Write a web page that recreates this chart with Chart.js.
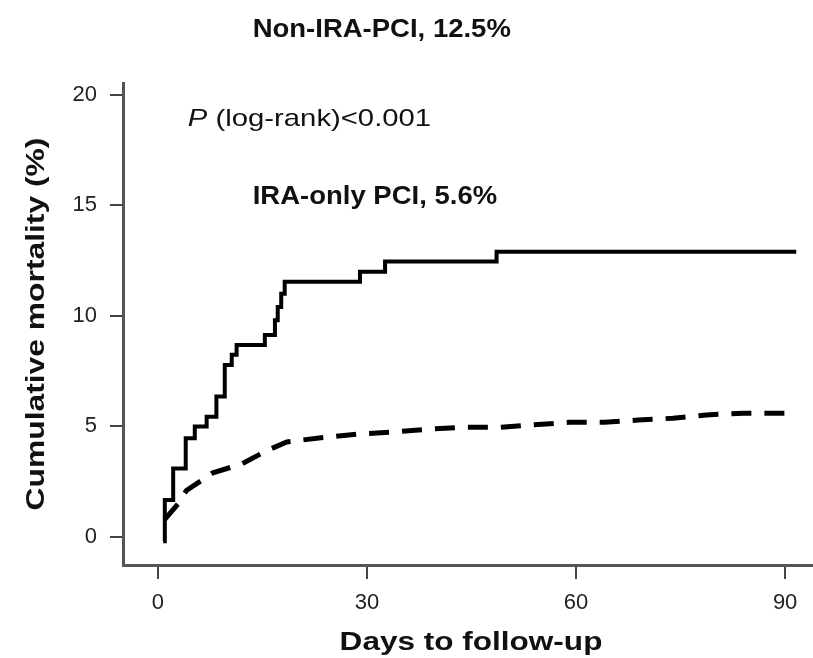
<!DOCTYPE html>
<html>
<head>
<meta charset="utf-8">
<script src="https://cdn.jsdelivr.net/npm/chart.js@4"></script>
<style>
  html, body { margin: 0; padding: 0; background: #fff; }
  #wrap { width: 813px; height: 658px; position: relative; }
</style>
</head>
<body>
<div id="wrap"><canvas id="kmChart"></canvas></div>
<script>
// Kaplan-Meier style curves (days, cumulative mortality %)
const nonIraDays = [0.76, 1.0, 2.2, 4.0, 5.3, 7.0, 8.4, 9.6, 10.6, 11.3, 15.35, 16.8, 17.2, 17.7, 18.2, 29.0, 32.6, 48.6, 91.6];
const nonIraPct  = [-0.2, 1.67, 3.1, 4.47, 5.0, 5.44, 6.35, 7.78, 8.24, 8.69, 9.14, 9.8, 10.4, 11.0, 11.55, 12.0, 12.46, 12.9, 12.9];

const iraOnlyDays = [1.0, 2.9, 4.1, 7.9, 12.0, 15.6, 18.5, 23.7, 28.5, 34.0, 38.5, 43.8, 49.0, 53.8, 59.1, 64.1, 68.9, 73.9, 78.7, 84.0, 89.0, 90.7];
const iraOnlyPct  = [0.8, 1.5, 2.1, 2.9, 3.3, 3.9, 4.3, 4.5, 4.65, 4.75, 4.87, 4.96, 4.96, 5.07, 5.19, 5.19, 5.29, 5.37, 5.52, 5.6, 5.6, 5.6];

const dayTicks = [0, 30, 60, 90];
const pctTicks = [0, 5, 10, 15, 20];

const nonIraLabel = 'Non-IRA-PCI, 12.5%';
const iraOnlyLabel = 'IRA-only PCI, 5.6%';
const pValueLabel = ' (log-rank)<0.001';
const xTitle = 'Days to follow-up';
const yTitle = 'Cumulative mortality (%)';

const FAMILY = '"Liberation Sans", Arial, sans-serif';

function toPoints(xs, ys) {
  return xs.map((x, i) => ({ x: x, y: ys[i] }));
}

// the figure's lettering is set wide, so draw it with a horizontal stretch
function wideText(ctx, text, x, y, font, stretch, align, angle) {
  ctx.save();
  ctx.translate(x, y);
  if (angle) ctx.rotate(angle);
  ctx.scale(stretch, 1);
  ctx.font = font;
  ctx.textAlign = align;
  ctx.textBaseline = 'alphabetic';
  ctx.fillText(text, 0, 0);
  const w = ctx.measureText(text).width * stretch;
  ctx.restore();
  return w;
}

const notesPlugin = {
  id: 'notes',
  afterDraw(chart) {
    const ctx = chart.ctx;
    const xs = chart.scales.x;
    const ys = chart.scales.y;
    const area = chart.chartArea;
    ctx.save();
    ctx.fillStyle = '#111';

    const bold = 'bold 25px ' + FAMILY;
    wideText(ctx, nonIraLabel, xs.getPixelForValue(13.6), ys.getPixelForValue(22.62), bold, 1.1, 'left');
    wideText(ctx, iraOnlyLabel, xs.getPixelForValue(13.6), ys.getPixelForValue(15.07), bold, 1.1, 'left');

    // P (italic) then the rest upright
    let px = xs.getPixelForValue(4.3);
    const py = ys.getPixelForValue(18.6);
    px += wideText(ctx, 'P', px, py, 'italic 24px ' + FAMILY, 1.22, 'left');
    wideText(ctx, pValueLabel, px, py, '24px ' + FAMILY, 1.22, 'left');

    // axis titles
    const titleFont = 'bold 26.5px ' + FAMILY;
    wideText(ctx, xTitle, (area.left + area.right) / 2 + 3, area.bottom + 85, titleFont, 1.19, 'center');
    wideText(ctx, yTitle, area.left - 79, (area.top + area.bottom) / 2, titleFont, 1.2, 'center', -Math.PI / 2);
    ctx.restore();
  }
};

const tickFont = { family: FAMILY, size: 22 };

new Chart(document.getElementById('kmChart'), {
  type: 'line',
  data: {
    datasets: [
      {
        label: 'Non-IRA-PCI',
        data: toPoints(nonIraDays, nonIraPct),
        borderColor: '#000',
        borderWidth: 4,
        stepped: 'before',
        borderJoinStyle: 'miter',
        pointRadius: 0,
        fill: false
      },
      {
        label: 'IRA-only PCI',
        data: toPoints(iraOnlyDays, iraOnlyPct),
        borderColor: '#000',
        borderWidth: 5,
        borderDash: [20, 13],
        pointRadius: 0,
        tension: 0,
        fill: false
      }
    ]
  },
  options: {
    responsive: true,
    maintainAspectRatio: false,
    animation: false,
    layout: { padding: { top: 83, right: 0, bottom: 0, left: 0 } },
    plugins: {
      legend: { display: false },
      tooltip: { enabled: false }
    },
    scales: {
      x: {
        type: 'linear',
        min: -5.0,
        max: 94.0,
        afterBuildTicks: (scale) => { scale.ticks = dayTicks.map(v => ({ value: v })); },
        afterFit: (scale) => { scale.height = 93; },
        grid: { drawOnChartArea: false, drawTicks: true, tickLength: 14, color: '#444', lineWidth: 2 },
        border: { display: true, color: '#555', width: 3 },
        ticks: { font: tickFont, color: '#222', padding: 11, maxRotation: 0 }
      },
      y: {
        type: 'linear',
        min: -1.27,
        max: 20.54,
        afterBuildTicks: (scale) => { scale.ticks = pctTicks.map(v => ({ value: v })); },
        afterFit: (scale) => { scale.width = 123; },
        grid: { drawOnChartArea: false, drawTicks: true, tickLength: 13, color: '#444', lineWidth: 2 },
        border: { display: true, color: '#555', width: 3 },
        ticks: { font: tickFont, color: '#222', padding: 13 }
      }
    }
  },
  plugins: [notesPlugin]
});
</script>
</body>
</html>
